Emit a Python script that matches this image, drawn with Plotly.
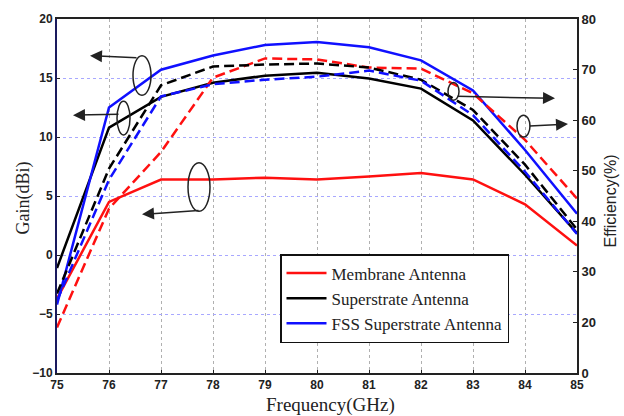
import plotly.graph_objects as go

# Frequency sweep (GHz)
freq = [75, 76, 77, 78, 79, 80, 81, 82, 83, 84, 85]

# Gain (dBi) - left axis
gain_membrane = [-3.7, 4.5, 6.4, 6.4, 6.55, 6.4, 6.65, 6.95, 6.4, 4.3, 0.8]
gain_superstrate = [-1.1, 10.8, 13.4, 14.6, 15.2, 15.45, 14.95, 14.1, 11.4, 6.8, 1.85]
gain_fss = [-4.2, 12.5, 15.7, 16.9, 17.8, 18.05, 17.6, 16.5, 13.95, 8.9, 3.5]

# Efficiency (%) - right axis
eff_membrane = [19.0, 42.5, 53.7, 68.4, 72.2, 72.0, 70.4, 70.2, 65.3, 56.1, 44.5]
eff_superstrate = [25.7, 50.4, 66.9, 70.6, 71.0, 71.2, 70.4, 68.0, 62.0, 51.2, 38.4]
eff_fss = [24.3, 48.2, 64.7, 67.1, 68.0, 68.6, 69.8, 67.8, 61.0, 49.8, 37.5]

series_names = ["Membrane Antenna", "Superstrate Antenna", "FSS Superstrate Antenna"]
colors = ["#ff1010", "#000000", "#1010ff"]

# Right-axis ticks
eff_tickvals = [10, 20, 30, 40, 50, 60, 70, 80]
eff_ticktext = ["0", "20", "30", "40", "50", "60", "70", "80"]

W, H = 624, 416
L, R, T, B = 57, 577, 16, 373  # plot area in pixels

fig = go.Figure()

for name, g, c in zip(series_names, [gain_membrane, gain_superstrate, gain_fss], colors):
    fig.add_trace(go.Scatter(x=freq, y=g, mode="lines", name=name,
                             line=dict(color=c, width=2.5), yaxis="y"))
for name, e, c in zip(series_names, [eff_membrane, eff_superstrate, eff_fss], colors):
    fig.add_trace(go.Scatter(x=freq, y=e, mode="lines", name=name + " efficiency",
                             showlegend=False,
                             line=dict(color=c, width=2.5, dash="10px,5px"), yaxis="y2"))


def px(x):
    return (x - L) / (R - L)


def py(y):
    return (B - y) / (B - T)


# Ellipses grouping curves
ellipses = [(133, 53, 151, 93), (117, 99, 130, 133), (188, 161, 210, 210),
            (448, 80, 459, 98), (517, 113, 530, 135)]
shapes = []
for x0, y0, x1, y1 in ellipses:
    shapes.append(dict(type="circle", xref="paper", yref="paper",
                       x0=px(x0), x1=px(x1), y0=py(y1), y1=py(y0),
                       line=dict(color="#222222", width=1.5)))

# Arrows pointing to the relevant axis: (head_x, head_y, tail_x, tail_y)
arrows = [(90, 53, 138, 55), (73, 113, 120, 112), (142, 213, 200, 209),
          (555, 96, 456, 94), (568, 122, 528, 124)]
annotations = []
for hx, hy, tx, ty in arrows:
    annotations.append(dict(xref="paper", yref="paper", x=px(hx), y=py(hy),
                            ax=tx - hx, ay=ty - hy, text="", showarrow=True,
                            arrowhead=2, arrowsize=1.6, arrowwidth=1.5,
                            arrowcolor="#222222"))

# Axis titles
annotations += [
    dict(text="Frequency(GHz)", xref="paper", yref="paper", x=px(330), y=py(405),
         xanchor="center", yanchor="middle", showarrow=False,
         font=dict(family="Liberation Serif", size=19, color="#222222")),
    dict(text="Gain(dBi)", xref="paper", yref="paper", x=px(23), y=py(197),
         xanchor="center", yanchor="middle", showarrow=False, textangle=-90,
         font=dict(family="Liberation Serif", size=18, color="#222222")),
    dict(text="Efficiency(%)", xref="paper", yref="paper", x=px(610), y=py(200),
         xanchor="center", yanchor="middle", showarrow=False, textangle=-90,
         font=dict(family="Liberation Sans", size=16, color="#222222")),
]

tickfont = dict(family="Liberation Sans", size=12, color="#222222", weight="bold")

fig.update_layout(
    width=W, height=H,
    margin=dict(l=L, r=W - R, t=T, b=H - B),
    paper_bgcolor="white", plot_bgcolor="white",
    shapes=shapes, annotations=annotations,
    showlegend=True,
    legend=dict(x=px(280), y=py(253), xanchor="left", yanchor="top",
                bgcolor="white", bordercolor="#111111", borderwidth=1.5,
                font=dict(family="Liberation Serif", size=17, color="#222222"),
                itemwidth=40, tracegroupgap=0),
    xaxis=dict(range=[75, 85], dtick=1, tick0=75,
               showgrid=True, gridcolor="#b0b0b0", griddash="dot", gridwidth=1,
               showline=True, linecolor="#222222", linewidth=2, mirror=True,
               ticks="inside", ticklen=3, tickcolor="#222222",
               tickfont=tickfont, zeroline=False),
    yaxis=dict(range=[-10, 20], dtick=5, tick0=-10,
               showgrid=True, gridcolor="#a8a8ff", griddash="dot", gridwidth=1,
               showline=True, linecolor="#1a1a5e", linewidth=2, mirror=False,
               ticks="inside", ticklen=3, tickcolor="#222222",
               tickfont=tickfont, zeroline=False),
    yaxis2=dict(range=[10, 80], overlaying="y", side="right",
                tickvals=eff_tickvals, ticktext=eff_ticktext,
                showgrid=False, showline=True, linecolor="#222222", linewidth=2,
                ticks="inside", ticklen=4, tickcolor="#222222",
                tickfont=dict(family="Liberation Sans", size=13, color="#222222",
                              weight="bold"),
                zeroline=False),
)

fig.write_html("out.html")
